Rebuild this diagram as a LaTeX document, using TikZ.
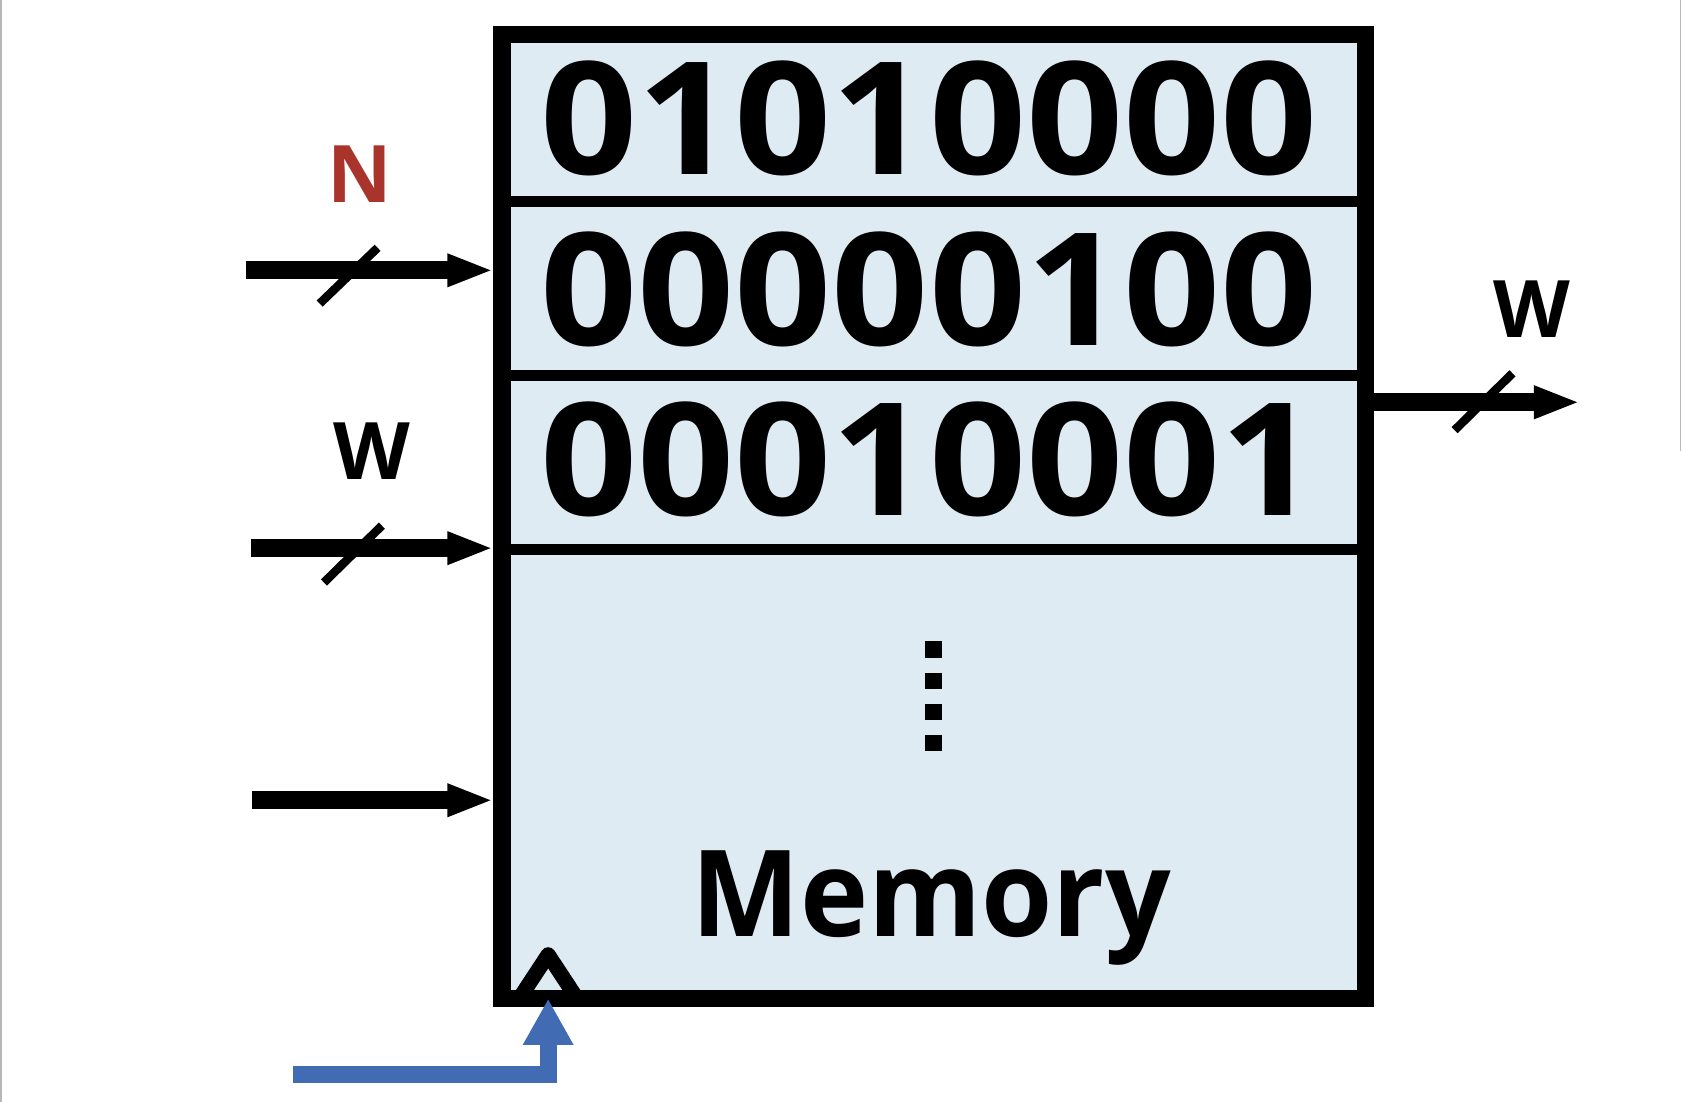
\documentclass[tikz,border=0pt]{standalone}
\usepackage{fontspec}
\setmainfont{Open Sans}
\usetikzlibrary{arrows.meta,calc}
\definecolor{memfill}{HTML}{DFEBF3}
\definecolor{clkblue}{HTML}{416BB2}
\definecolor{nred}{HTML}{A9342B}
\definecolor{edgegray}{HTML}{B8B8B8}
\newcommand{\bitrow}[1]{\resizebox{362pt}{53pt}{\bfseries #1}}
\begin{document}
\begin{tikzpicture}[x=0.5pt,y=-0.5pt,
  membox/.style={draw=black, line width=8pt, fill=memfill, minimum width=402.5pt,
                 minimum height=449.5pt, inner sep=0pt, outer sep=4pt},
  divider/.style={line width=5pt},
  bus/.style={line width=8.5pt, -{Triangle[length=21.5pt,width=14pt]}},
  slashmark/.style={line width=4pt},
  clk/.style={draw=clkblue, line width=8pt, -{Triangle[length=21.5pt,width=22pt]}},
  lbl/.style={font=\fontsize{37}{37}\selectfont\bfseries, inner sep=0pt},
  bits/.style={inner sep=0pt},
  memlabel/.style={font=\fontsize{56}{56}\selectfont\bfseries, inner sep=0pt, anchor=base}]
  \path[use as bounding box] (0,0) rectangle (1568,1027);
  % faint page edges
  \draw[edgegray, line width=0.8pt] (0.8,0) -- (0.8,1027);
  \draw[edgegray, line width=0.8pt] (1566.5,0) -- (1566.5,420);

  % memory box
  \node[membox] (mem) at (870.5,481.5) {};
  \draw[divider] (mem.west |- 0,188) -- (mem.east |- 0,188);
  \draw[divider] (mem.west |- 0,350) -- (mem.east |- 0,350);
  \draw[divider] (mem.west |- 0,512) -- (mem.east |- 0,512);

  \node[bits] (r1) at (866,110) {\bitrow{01010000}};
  \node[bits] (r2) at (866,270) {\bitrow{00000100}};
  \node[bits] (r3) at (866,428) {\bitrow{00010001}};

  % vertical ellipsis
  \draw[line width=8pt, dash pattern=on 7.5pt off 7pt] (870,598) -- (870,703);

  \node[memlabel] (memtxt) at (868,873) {\scalebox{0.96}[1]{Memory}};

  % clock triangle
  \draw[line width=7pt, line join=round] (486,928) -- (511,890) -- (536,928);

  % inputs
  \coordinate (inN) at (229,252);
  \coordinate (inW) at (234,511);
  \coordinate (inE) at (235,746);
  \draw[bus] (inN) -- (inN -| mem.west);
  \draw[bus] (inW) -- (inW -| mem.west);
  \draw[bus] (inE) -- (inE -| mem.west);
  \draw[slashmark] (298,283) -- (352,231);
  \draw[slashmark] (302,543) -- (356,490);
  \node[lbl, text=nred] (labN) at (335,162) {N};
  \node[lbl] (labW) at (347,421) {W};

  % output
  \coordinate (outW) at (1473,375);
  \draw[bus] (outW -| mem.east) -- (outW);
  \draw[slashmark] (1356,401) -- (1410,348);
  \node[lbl] (labWo) at (1428,288) {W};

  % clock input
  \coordinate (clkin) at (273,1002);
  \coordinate (clktip) at (511,931);
  \draw[clk] (clkin) -| (clktip);
\end{tikzpicture}
\end{document}
